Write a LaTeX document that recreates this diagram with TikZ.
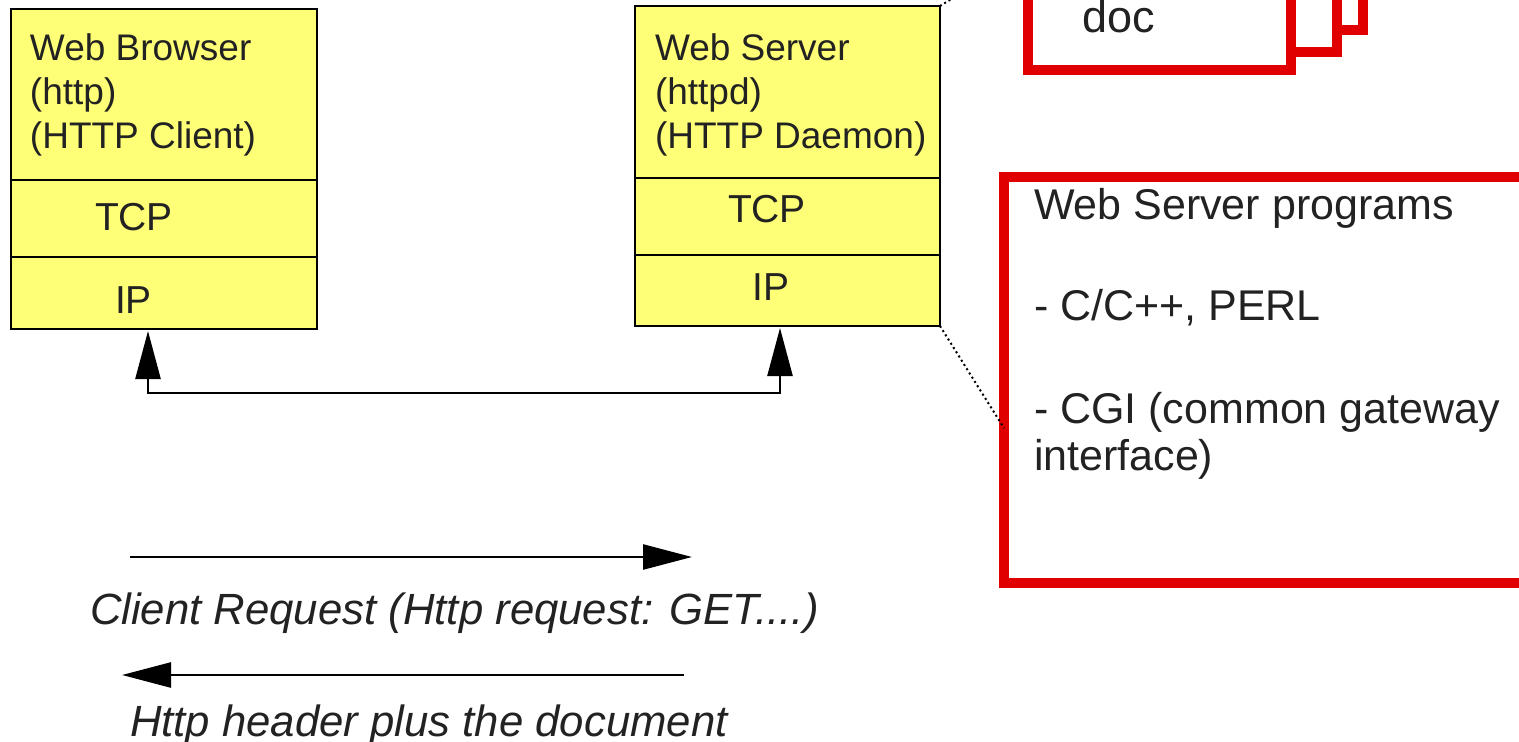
\documentclass[tikz,border=0pt]{standalone}
\usepackage{fontspec}
\setmainfont{Liberation Sans}
\usetikzlibrary{arrows.meta,calc}
\definecolor{layerfill}{RGB}{255,255,119}
\definecolor{docred}{RGB}{224,0,0}
\definecolor{ink}{RGB}{34,34,34}

\begin{document}
\begin{tikzpicture}[
  x=1pt, y=-1pt,
  every node/.style={text=ink, inner sep=0pt, outer sep=0pt},
  layer/.style={draw, line width=2.5pt, fill=layerfill, anchor=north west},
  title/.style={anchor=base west, align=left, font=\fontsize{37}{44}\selectfont},
  proto/.style={anchor=base, font=\fontsize{39}{44}\selectfont},
  docpage/.style={draw=docred, line width=10pt, fill=white, minimum width=263pt, minimum height=236pt, anchor=south east},
  note/.style={draw=docred, line width=10pt, anchor=north west, minimum width=700pt, minimum height=406.5pt},
  msgtext/.style={anchor=base west, font=\itshape\fontsize{43.7}{50}\selectfont},
  link/.style={line width=2.5pt, {Triangle[length=48pt, width=25pt]}-{Triangle[length=48pt, width=25pt]}},
  msg/.style={line width=2.5pt, -{Triangle[length=49pt, width=25pt]}},
  leader/.style={line width=2pt, dash pattern=on 2pt off 3pt}]

\clip (0,0) rectangle (1519,742);

\node[layer, minimum width=306pt, minimum height=171pt] (bapp) at (11,9) {};
\node[layer, minimum width=306pt, minimum height=77pt]  (btcp) at (11,180) {};
\node[layer, minimum width=306pt, minimum height=72pt]  (bip)  at (11,257) {};
\node[title] (btitle) at (30,148) {Web Browser\\(http)\\(HTTP Client)};
\node[proto] (btcpl) at (134,230) {TCP};
\node[proto] (bipl)  at (133.5,313) {IP};

\node[layer, minimum width=305pt, minimum height=172pt] (sapp) at (635,6) {};
\node[layer, minimum width=305pt, minimum height=77pt]  (stcp) at (635,178) {};
\node[layer, minimum width=305pt, minimum height=71pt]  (sip)  at (635,255) {};
\node[title] (stitle) at (655,148) {Web Server\\(httpd)\\(HTTP Daemon)};
\node[proto] (stcpl) at (767,222) {TCP};
\node[proto] (sipl)  at (771,300) {IP};

\node[docpage] (d3) at (1363,30) {};
\node[docpage] (d2) at (1337,52) {};
\node[docpage] (d1) at (1291,70) {};
\node[anchor=base west, font=\fontsize{45}{48}\selectfont] (doclbl) at (1082,32) {doc};

\node[note] (prog) at (1004,176.5) {};
\node[anchor=base west, align=left, font=\fontsize{43}{47}\selectfont] (progtext) at (1034,470)
  {Web Server programs\\[54pt]- C/C++, PERL\\[56pt]- CGI (common gateway\\interface)};

\draw[leader] (sapp.north east) -- (d1.west);
\draw[leader] (sip.south east) -- ($(prog.north west)!0.619!(prog.south west)$);

\coordinate (lb) at (148,393);
\coordinate (rb) at (780,393);
\draw[link, shorten <=2pt, shorten >=2pt] (bip.south -| lb) -- (lb) -- (rb) -- (sip.south -| rb);

\coordinate (rqa) at (130,557);
\coordinate (rqb) at (692,557);
\coordinate (rsa) at (684,675);
\coordinate (rsb) at (122,675);
\draw[msg] (rqa) -- (rqb);
\draw[msg] (rsa) -- (rsb);
\node[msgtext] (rqtext) at (90,624) {Client Request (Http request: GET....)};
\node[msgtext] (rstext) at (130,736) {Http header plus the document};
\end{tikzpicture}
\end{document}
